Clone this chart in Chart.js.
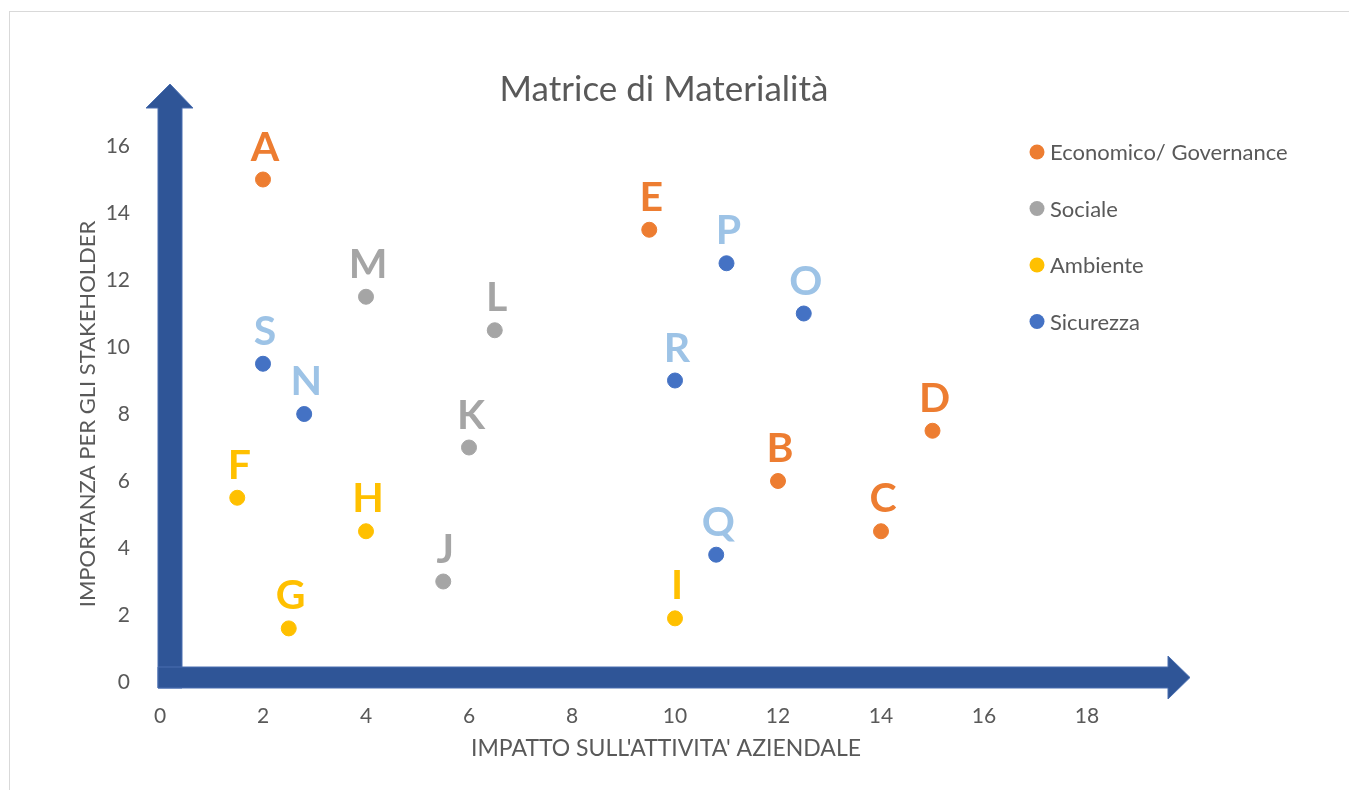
<!DOCTYPE html>
<html>
<head>
<meta charset="utf-8">
<script src="https://cdn.jsdelivr.net/npm/chart.js@4.4.0/dist/chart.umd.min.js"></script>
<style>
  html, body { margin: 0; padding: 0; background: #fff; }
  #wrap { position: relative; width: 1349px; height: 790px; overflow: hidden; }
  #frame { position: absolute; left: 9px; top: 11px; width: 1400px; height: 900px; border: 1px solid #d9d9d9; }
  canvas { position: absolute; left: 0; top: 0; }
</style>
</head>
<body>
<div id="wrap">
  <div id="frame"></div>
  <canvas id="matrice" width="1349" height="790"></canvas>
</div>
<script>
// Dati della matrice (x = impatto, y = importanza)
const economicoNomi = ['A', 'E', 'B', 'C', 'D'];
const economicoX = [2, 9.5, 12, 14, 15];
const economicoY = [15, 13.5, 6, 4.5, 7.5];

const socialeNomi = ['M', 'L', 'K', 'J'];
const socialeX = [4, 6.5, 6, 5.5];
const socialeY = [11.5, 10.5, 7, 3];

const ambienteNomi = ['F', 'H', 'G', 'I'];
const ambienteX = [1.5, 4, 2.5, 10];
const ambienteY = [5.5, 4.5, 1.6, 1.9];

const sicurezzaNomi = ['S', 'N', 'P', 'O', 'R', 'Q'];
const sicurezzaX = [2, 2.8, 11, 12.5, 10, 10.8];
const sicurezzaY = [9.5, 8, 12.5, 11, 9, 3.8];

const xTicks = [0, 2, 4, 6, 8, 10, 12, 14, 16, 18];
const yTicks = [0, 2, 4, 6, 8, 10, 12, 14, 16];

const serie = ['Economico/ Governance', 'Sociale', 'Ambiente', 'Sicurezza'];
const coloriPunti = ['#ED7D31', '#A5A5A5', '#FFC000', '#4472C4'];
const coloriEtichette = ['#ED7D31', '#A5A5A5', '#FFC000', '#9DC3E6'];

function punti(xs, ys) {
    return xs.map((x, i) => ({ x: x, y: ys[i] }));
}

const nomiSerie = [economicoNomi, socialeNomi, ambienteNomi, sicurezzaNomi];
const datiSerie = [
    punti(economicoX, economicoY),
    punti(socialeX, socialeY),
    punti(ambienteX, ambienteY),
    punti(sicurezzaX, sicurezzaY)
];

const FONT = 'Lato, "Open Sans", sans-serif';
const GRIGIO = '#595959';

// frecce degli assi, titolo, legenda ed etichette dei punti
const decorazioni = {
    id: 'decorazioni',
    beforeDatasetsDraw(chart) {
        const ctx = chart.ctx;
        const x0 = chart.scales.x.getPixelForValue(0);
        const y0 = chart.scales.y.getPixelForValue(0);
        const cx = x0 + 10;   // centro barra verticale
        const cy = y0 - 4.5;  // centro barra orizzontale
        ctx.save();
        ctx.fillStyle = '#2F5597';
        ctx.strokeStyle = '#4a6fb0';
        ctx.lineWidth = 1;
        // freccia verticale
        ctx.beginPath();
        ctx.moveTo(cx - 12, cy + 10.5);
        ctx.lineTo(cx - 12, 108);
        ctx.lineTo(cx - 24, 108);
        ctx.lineTo(cx, 84);
        ctx.lineTo(cx + 23, 108);
        ctx.lineTo(cx + 12, 108);
        ctx.lineTo(cx + 12, cy + 10.5);
        ctx.closePath();
        ctx.fill();
        ctx.stroke();
        // freccia orizzontale
        ctx.beginPath();
        ctx.moveTo(cx - 12, cy - 10.5);
        ctx.lineTo(1168, cy - 10.5);
        ctx.lineTo(1168, cy - 21.5);
        ctx.lineTo(1190, cy);
        ctx.lineTo(1168, cy + 21.5);
        ctx.lineTo(1168, cy + 10.5);
        ctx.lineTo(cx - 12, cy + 10.5);
        ctx.closePath();
        ctx.fill();
        ctx.stroke();
        ctx.restore();
    },
    afterDatasetsDraw(chart) {
        const ctx = chart.ctx;
        ctx.save();
        // etichette lettere
        ctx.font = 'bold 41px ' + FONT;
        ctx.textAlign = 'center';
        ctx.textBaseline = 'alphabetic';
        chart.data.datasets.forEach((ds, i) => {
            const meta = chart.getDatasetMeta(i);
            meta.data.forEach((el, j) => {
                ctx.fillStyle = coloriEtichette[i];
                ctx.fillText(nomiSerie[i][j], el.x + 2, el.y - 19);
            });
        });
        // titolo
        ctx.fillStyle = GRIGIO;
        ctx.font = '35px ' + FONT;
        ctx.textBaseline = 'middle';
        ctx.fillText('Matrice di Materialità', 664, 90);
        // titolo asse x
        ctx.font = '23px ' + FONT;
        ctx.fillText("IMPATTO SULL'ATTIVITA' AZIENDALE", 666, 749);
        // legenda
        ctx.textAlign = 'left';
        ctx.font = '22px ' + FONT;
        serie.forEach((s, i) => {
            const y = 152 + i * 56.5;
            ctx.fillStyle = coloriPunti[i];
            ctx.beginPath();
            ctx.arc(1037, y, 7.5, 0, Math.PI * 2);
            ctx.fill();
            ctx.fillStyle = GRIGIO;
            ctx.fillText(s, 1050, y + 1);
        });
        ctx.restore();
    }
};

const matriceConfig = {
    type: 'scatter',
    data: {
        datasets: serie.map((s, i) => ({
            label: s,
            data: datiSerie[i],
            backgroundColor: coloriPunti[i],
            borderColor: coloriPunti[i],
            pointRadius: 7.5,
            pointHoverRadius: 7.5
        }))
    },
    options: {
        responsive: false,
        animation: false,
        events: [],
        layout: {
            padding: { top: 146, right: 262, left: 0, bottom: 0 }
        },
        plugins: {
            legend: { display: false },
            tooltip: { enabled: false }
        },
        scales: {
            x: {
                type: 'linear',
                min: 0,
                max: 18,
                afterBuildTicks: (s) => { s.ticks = xTicks.map(v => ({ value: v })); },
                afterFit: (s) => { s.height = 108; },
                grid: { display: false },
                border: { display: false },
                ticks: { color: GRIGIO, font: { family: FONT, size: 21 }, padding: 14 }
            },
            y: {
                type: 'linear',
                min: 0,
                max: 16,
                afterBuildTicks: (s) => { s.ticks = yTicks.map(v => ({ value: v })); },
                afterFit: (s) => { s.width = 160; },
                grid: { display: false },
                border: { display: false },
                ticks: { color: GRIGIO, font: { family: FONT, size: 21 }, padding: 22 },
                title: {
                    display: true,
                    text: 'IMPORTANZA PER GLI STAKEHOLDER',
                    color: GRIGIO,
                    font: { family: FONT, size: 22 },
                    padding: { top: 75, bottom: 0 }
                }
            }
        }
    },
    plugins: [decorazioni]
};

const matriceChart = new Chart(document.getElementById('matrice'), matriceConfig);
</script>
</body>
</html>
